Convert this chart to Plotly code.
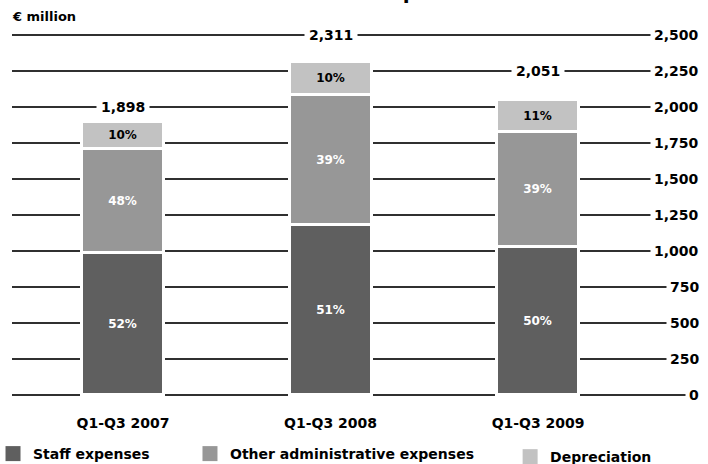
import math
import plotly.graph_objects as go

# Periods and expense components (EUR million)
periods = ["Q1-Q3 2007", "Q1-Q3 2008", "Q1-Q3 2009"]
totals = [1898, 2311, 2051]
staff = [987, 1179, 1026]
other_admin = [721, 901, 799]
depreciation = [190, 231, 226]

# Share labels printed inside the segments
staff_pct = ["52%", "51%", "50%"]
other_pct = ["48%", "39%", "39%"]
dep_pct = ["10%", "10%", "11%"]

y_ticks = [0, 250, 500, 750, 1000, 1250, 1500, 1750, 2000, 2250, 2500]

FONT = "DejaVu Sans"
C_STAFF = "#5f5f5f"
C_OTHER = "#979797"
C_DEP = "#c2c2c2"

fig = go.Figure()

segments = [
    ("Staff expenses", staff, staff_pct, C_STAFF, "white", "legend"),
    ("Other administrative expenses", other_admin, other_pct, C_OTHER, "white", "legend2"),
    ("Depreciation", depreciation, dep_pct, C_DEP, "black", "legend3"),
]

for name, vals, pct, color, tcol, _ in segments:
    fig.add_trace(go.Bar(
        x=periods, y=vals, name=name, text=pct,
        textposition="inside", insidetextanchor="middle",
        textfont=dict(family=FONT, size=12, color=tcol, weight="bold"),
        marker=dict(color=color, line=dict(color="white", width=3)),
        width=0.395, showlegend=False, hoverinfo="skip",
    ))

# Legend entries
for name, vals, pct, color, tcol, leg in segments:
    fig.add_trace(go.Scatter(
        x=[None], y=[None], mode="markers", name=name, legend=leg,
        marker=dict(symbol="square", size=15, color=color),
    ))

bold = dict(family=FONT, size=14, color="black", weight="bold")

# Totals sit on the gridline just above each bar
for p, t in zip(periods, totals):
    fig.add_annotation(
        x=p, y=math.ceil(t / 250) * 250, text=f"{t:,}", showarrow=False,
        font=bold, bgcolor="white", borderpad=4,
        xanchor="center", yanchor="middle",
    )

# Right-hand value labels
for v in y_ticks:
    fig.add_annotation(
        x=1, xref="paper", y=v, text=f"{v:,}", showarrow=False,
        font=bold, bgcolor="white", borderpad=3,
        xanchor="right", yanchor="middle", xshift=3,
    )

fig.add_annotation(
    x=0, xref="paper", y=1.044, yref="paper", text="€ million", showarrow=False,
    font=dict(family=FONT, size=13, color="black", weight="bold"),
    xanchor="left", yanchor="middle", xshift=-2,
)

# Chart heading, running off the top edge
fig.add_annotation(
    x=0.276, xref="paper", y=1.0769, yref="paper", text="Administrative expenses",
    showarrow=False, font=dict(family=FONT, size=20, color="black", weight="bold"),
    xanchor="left", yanchor="bottom", borderpad=0,
)

legend_common = dict(
    orientation="h", yanchor="middle", xanchor="left",
    font=dict(family=FONT, size=14, color="black", weight="bold"),
    bgcolor="rgba(0,0,0,0)", itemwidth=30, tracegroupgap=0,
)

fig.update_layout(
    width=708, height=464,
    margin=dict(l=12, r=8, t=33, b=67, autoexpand=False),
    plot_bgcolor="white", paper_bgcolor="white",
    barmode="stack", bargap=0,
    showlegend=True,
    legend=dict(x=-0.0276, y=-0.1566, **legend_common),
    legend2=dict(x=0.2587, y=-0.1566, **legend_common),
    legend3=dict(x=0.724, y=-0.165, **legend_common),
    xaxis=dict(
        type="category", range=[-0.535, 2.78], showgrid=False, zeroline=False,
        showline=False, ticks="", ticklabelstandoff=16,
        tickfont=bold,
    ),
    yaxis=dict(
        range=[-14, 2514], tickvals=y_ticks, showticklabels=False,
        showgrid=True, gridcolor="#303030", gridwidth=2,
        zeroline=False, showline=False,
    ),
)

fig.write_html("out.html")
